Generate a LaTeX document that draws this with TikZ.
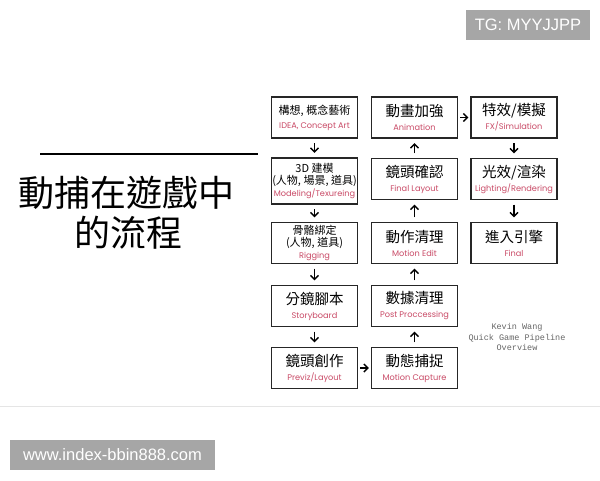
\documentclass[tikz,border=0pt]{standalone}
\usepackage{fontspec}
\usetikzlibrary{arrows.meta}
\setmainfont{Noto Sans CJK TC}
\newfontfamily\latinfont{Poppins}
\newfontfamily\creditfont{Liberation Mono}
\newfontfamily\wmfont{Liberation Sans}
\definecolor{subred}{HTML}{C94A66}
\definecolor{wmgray}{HTML}{A6A6A6}
\newcommand{\bigcjk}{\fontsize{14.5}{16}\selectfont}
\newcommand{\smallcjk}{\fontsize{11}{12.5}\selectfont}
\newcommand{\subtxt}{\latinfont\fontsize{8.2}{10}\selectfont\color{subred}}

\begin{document}
\begin{tikzpicture}[x=1pt,y=-1pt,
  stage/.style={draw=black!85,line width=1.1pt,minimum width=86pt,minimum height=41pt,align=center,inner sep=0.5pt},
  flow/.style={-{Straight Barb[length=4pt,width=8pt]},line width=1.4pt,shorten >=4.5pt,shorten <=4.5pt},
  watermark/.style={fill=wmgray,text=white,font=\wmfont\fontsize{16.5}{16.5}\selectfont,minimum height=30pt}]
  \useasboundingbox (0,0) rectangle (600,480);
  \fill[white] (0,0) rectangle (600,480);

  % title
  \draw[line width=2pt] (40,154) -- (258,154);
  \node (title1) at (127,193) {\fontsize{36}{36}\selectfont 動捕在遊戲中};
  \node (title2) at (128,233) {\fontsize{36}{36}\selectfont 的流程};

  % first column
  \node[stage] (idea) at (314.5,117.5) {{\smallcjk 構想, 概念藝術}\\[2pt]{\subtxt IDEA, Concept Art}};
  \node[stage,minimum height=46pt] (model) at (314.5,181) {{\smallcjk 3D 建模}\\{\smallcjk (人物, 場景, 道具)}\\{\subtxt Modeling/Texureing}};
  \node[stage] (rig) at (314.5,243) {{\smallcjk 骨骼綁定}\\{\smallcjk (人物, 道具)}\\{\subtxt Rigging}};
  \node[stage] (story) at (314.5,306) {{\bigcjk 分鏡腳本}\\[2pt]{\subtxt Storyboard}};
  \node[stage] (previz) at (314.5,368) {{\bigcjk 鏡頭創作}\\[2pt]{\subtxt Previz/Layout}};

  % second column
  \node[stage] (anim) at (414.5,117.5) {{\bigcjk 動畫加強}\\[2pt]{\subtxt Animation}};
  \node[stage] (final) at (414.5,179) {{\bigcjk 鏡頭確認}\\[2pt]{\subtxt Final Layout}};
  \node[stage] (edit) at (414.5,243) {{\bigcjk 動作清理}\\[2pt]{\subtxt Motion Edit}};
  \node[stage] (post) at (414.5,306) {{\bigcjk 數據清理}\\[2pt]{\subtxt Post Proccessing}};
  \node[stage] (mocap) at (414.5,368) {{\bigcjk 動態捕捉}\\[2pt]{\subtxt Motion Capture}};

  % third column
  \node[stage] (fx) at (514,117.5) {{\bigcjk 特效/模擬}\\[2pt]{\subtxt FX/Simulation}};
  \node[stage] (light) at (514,179) {{\bigcjk 光效/渲染}\\[2pt]{\subtxt Lighting/Rendering}};
  \node[stage] (engine) at (514,243) {{\bigcjk 進入引擎}\\[2pt]{\subtxt Final}};

  \draw[flow] (idea) to (model);
  \draw[flow] (model) to (rig);
  \draw[flow] (rig) to (story);
  \draw[flow] (story) to (previz);
  \draw[flow,shorten >=2pt,shorten <=2pt] (previz) to (mocap);
  \draw[flow] (mocap) to (post);
  \draw[flow] (post) to (edit);
  \draw[flow] (edit) to (final);
  \draw[flow] (final) to (anim);
  \draw[flow,shorten >=2pt,shorten <=2pt] (anim) to (fx);
  \draw[flow] (fx) to (light);
  \draw[flow] (light) to (engine);

  \node[align=center,text=black!60,font=\creditfont\fontsize{8.5}{10.3}\selectfont] (credit) at (517,337) {Kevin Wang\\Quick Game Pipeline\\Overview};

  \draw[black!10] (0,406) -- (600,406);

  \node[watermark,minimum width=124pt] (tg) at (528,25) {TG: MYYJJPP};
  \node[watermark,minimum width=205pt] (site) at (112.5,455) {www.index-bbin888.com};
\end{tikzpicture}
\end{document}
